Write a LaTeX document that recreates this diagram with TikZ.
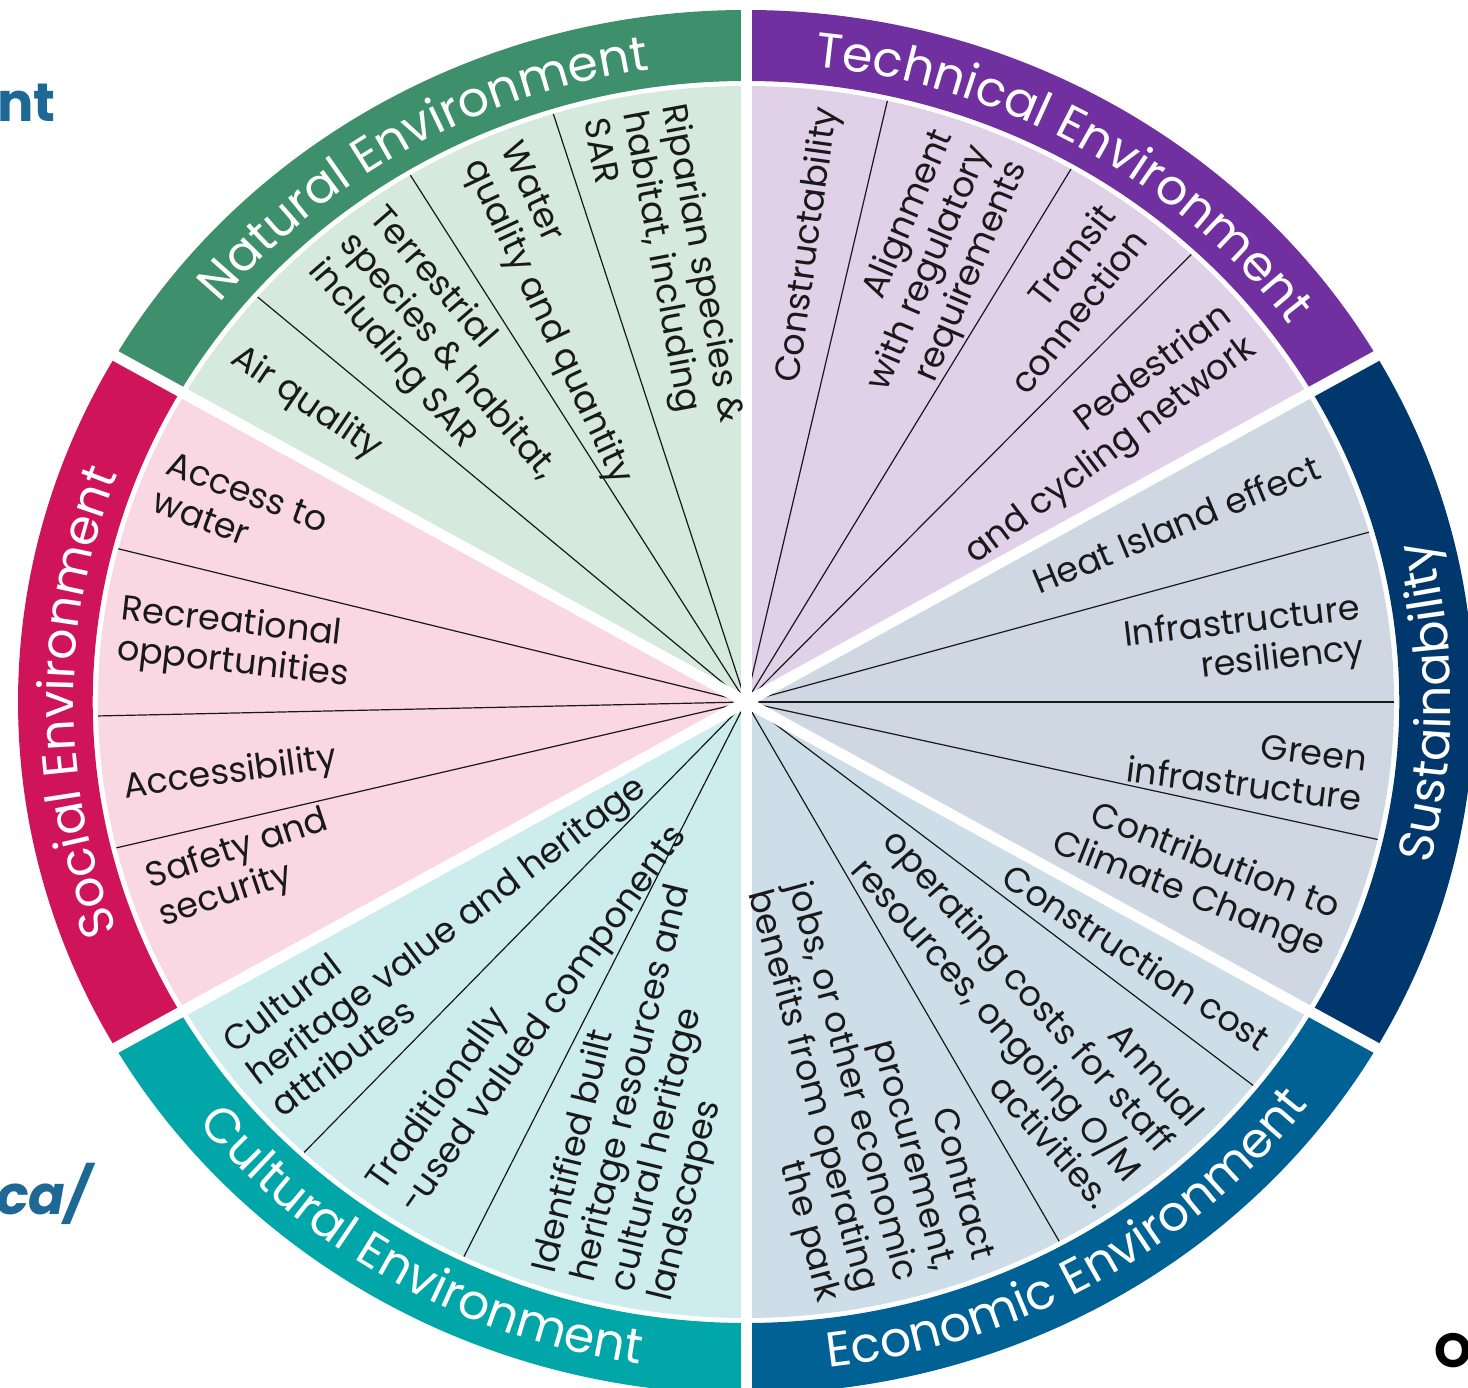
\documentclass[tikz,border=0pt]{standalone}
\usepackage{fontspec}
\setmainfont{Poppins}
\usetikzlibrary{decorations.text}
\definecolor{natR}{RGB}{62,143,107}
\definecolor{natP}{RGB}{214,233,221}
\definecolor{tecR}{RGB}{112,48,160}
\definecolor{tecP}{RGB}{225,209,232}
\definecolor{susR}{RGB}{0,56,110}
\definecolor{susP}{RGB}{207,215,227}
\definecolor{ecoR}{RGB}{0,97,149}
\definecolor{ecoP}{RGB}{206,222,233}
\definecolor{culR}{RGB}{0,166,168}
\definecolor{culP}{RGB}{204,236,238}
\definecolor{socR}{RGB}{208,20,90}
\definecolor{socP}{RGB}{249,215,227}
\definecolor{marg}{RGB}{29,104,148}
\definecolor{ink}{RGB}{25,25,25}
\newcommand\itemfont{\fontsize{35}{40}\selectfont}
\newcommand\ringfont{\fontsize{49}{49}\selectfont}
\def\kx{1.052}
\def\Ro{692}
\def\Ri{621}
\def\Rs{616}
\tikzset{
  divider/.style={line width=1.2pt, draw=ink},
  gapline/.style={line width=11pt, draw=white},
  itemtext/.style={font=\itemfont, text=ink, inner sep=0pt},
  margtext/.style={inner sep=0pt, anchor=base west},
}
% ring segment + pale wedge
\newcommand\mysector[4]{%
  \fill[#3] ({\kx*\Ro*cos(#1)},{\Ro*sin(#1)}) arc[start angle=#1,end angle=#2,x radius={\kx*\Ro},y radius=\Ro]
     -- ({\kx*\Ri*cos(#2)},{\Ri*sin(#2)}) arc[start angle=#2,end angle=#1,x radius={\kx*\Ri},y radius=\Ri] -- cycle;
  \fill[#4] (O) -- ({\kx*\Rs*cos(#1)},{\Rs*sin(#1)}) arc[start angle=#1,end angle=#2,x radius={\kx*\Rs},y radius=\Rs] -- cycle;
}
\newcommand\divline[2]{\draw[divider] (O) -- ({\kx*\Rs*cos(#1)},{\Rs*sin(#1)}) coordinate (#2);}
\newcommand\itemin[4]{%
  \node[itemtext, align=left, anchor=west, rotate={atan2(-sin(#2),-\kx*cos(#2))}] (#1) at ({\kx*#3*cos(#2)},{#3*sin(#2)}) {#4};}
\newcommand\itemout[4]{%
  \node[itemtext, align=right, anchor=east, rotate={atan2(sin(#2),\kx*cos(#2))}] (#1) at ({\kx*#3*cos(#2)},{#3*sin(#2)}) {#4};}
\newcommand\ringlabel[4]{%
  \path[decorate, decoration={text along path, text align=center, text={|\ringfont\color{white}|#4}}]
    ({\kx*#3*cos(#1)},{#3*sin(#1)}) arc[start angle=#1, end angle=#2, x radius={\kx*#3}, y radius=#3];}
\begin{document}
\begin{tikzpicture}[x=1pt,y=1pt]
\useasboundingbox (0,0) rectangle (1468,1388);
\fill[white] (0,0) rectangle (1468,1388);
\begin{scope}[shift={(746,686)}]
\coordinate (O) at (0,0);
\mysector{90}{150}{natR}{natP}
\mysector{30}{90}{tecR}{tecP}
\mysector{-30}{30}{susR}{susP}
\mysector{270}{330}{ecoR}{ecoP}
\mysector{210}{270}{culR}{culP}
\mysector{150}{210}{socR}{socP}
% thin dividers
\divline{107.3}{d1}
\divline{121.2}{d2}
\divline{138.9}{d3}
\divline{77.4}{d4}
\divline{59.9}{d5}
\divline{46.6}{d6}
\divline{16}{d7}
\divline{0}{d8}
\divline{-12.9}{d9}
\divline{-38.5}{d10}
\divline{-61.1}{d11}
\divline{227}{d12}
\divline{244.2}{d13}
\divline{165.6}{d14}
\divline{181.3}{d15}
\divline{193.7}{d16}
% white gaps
\foreach \a in {30,90,150,210,270,330}
  \draw[gapline] (O) -- ({\kx*730*cos(\a)},{730*sin(\a)});
% ring labels
\ringlabel{150}{90}{639}{Natural Environment}
\ringlabel{90}{30}{639}{Technical Environment}
\ringlabel{210}{150}{639}{Social Environment}
\ringlabel{210}{270}{670}{Cultural Environment}
\ringlabel{270}{330}{670}{Economic Environment}
\ringlabel{-30}{30}{670}{Sustainability}
% items
\itemin{n1}{100}{600}{Riparian species \&\\habitat, including\\SAR}
\itemin{n2}{114}{600}{Water\\quality and quantity}
\itemin{n3}{129.5}{600}{Terrestrial\\species \& habitat,\\including SAR}
\itemin{n4}{144.5}{598}{Air quality}
\itemout{t1}{82.5}{600}{Constructability}
\itemout{t2}{68}{598}{Alignment\\with regulatory\\requirements}
\itemout{t3}{53.3}{600}{Transit\\connection}
\itemout{t4}{38.4}{600}{Pedestrian\\and cycling network}
\itemout{s1}{23.5}{593}{Heat Island effect}
\itemout{s2}{7}{590}{Infrastructure\\resiliency}
\itemout{s3}{-7.5}{593}{Green\\infrastructure}
\itemout{s4}{-22.3}{600}{Contribution to\\Climate Change}
\itemout{e1}{-34.5}{600}{Construction cost}
\itemout{e2}{-50}{600}{Annual\\operating costs for staff\\resources, ongoing O/M\\activities.}
\itemout{e3}{-75.5}{598}{Contract\\procurement,\\jobs, or other economic\\benefits from operating\\the park}
\itemin{c1}{218.5}{602}{Cultural\\heritage value and heritage\\attributes}
\itemin{c2}{236}{600}{Traditionally\\-used valued components}
\itemin{c3}{257}{600}{Identified built\\heritage resources and\\cultural heritage\\landscapes}
\itemin{so1}{158.3}{598}{Access to\\water}
\itemin{so2}{173.2}{600}{Recreational\\opportunities}
\itemin{so3}{188.4}{598}{Accessibility}
\itemin{so4}{199.3}{596}{Safety and\\security}
\end{scope}
% cropped margin texts
\node[margtext, font=\fontsize{54}{54}\selectfont\bfseries, text=marg] (mnt) at (-3,1266) {nt};
\node[margtext, font=\fontsize{54}{54}\selectfont\bfseries\itshape, text=marg] (mca) at (-4,173) {ca/};
\node[margtext, font=\fontsize{48}{48}\selectfont\bfseries, text=black] (mO) at (1434,20) {O};
\end{tikzpicture}
\end{document}
